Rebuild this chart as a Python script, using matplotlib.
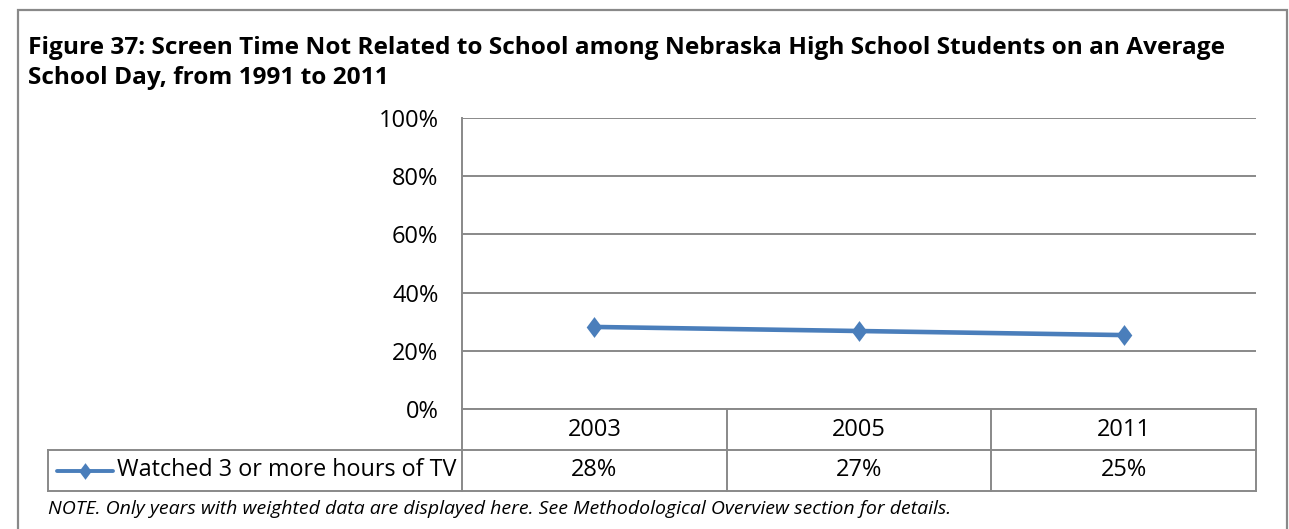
import numpy as np
import matplotlib.pyplot as plt
from matplotlib.patches import Rectangle

plt.rcParams['font.family'] = ['Open Sans', 'DejaVu Sans']

# survey years and share of students (percent)
years = ['2003', '2005', '2011']
tv_pct = [28.2, 26.8, 25.4]
series_name = 'Watched 3 or more hours of TV'
y_ticks = [0, 20, 40, 60, 80, 100]

title = ('Figure 37: Screen Time Not Related to School among Nebraska High School Students on an Average\n'
         'School Day, from 1991 to 2011')
note = 'NOTE. Only years with weighted data are displayed here. See Methodological Overview section for details.'

W, H = 1289, 529
fig = plt.figure(figsize=(W / 100, H / 100), dpi=100)

grid_c = '#898989'
line_c = '#4a7ebb'
diamond = [(0, 1), (0.75, 0), (0, -1), (-0.75, 0)]
fs = 17

# outer chart frame
fig.patches.append(Rectangle((18 / W, -0.05), (1287 - 18) / W, 1.05 - 10 / H,
                             transform=fig.transFigure, fill=False,
                             edgecolor=grid_c, lw=1.6))

fig.text(28 / W, 1 - 36 / H, title, fontsize=17.6, fontweight='bold',
         va='top', ha='left', linespacing=1.33)

left, right, top, bottom = 462, 1256, 118, 409
ax = fig.add_axes([left / W, 1 - bottom / H, (right - left) / W, (bottom - top) / H])

x = np.arange(len(years))
ax.plot(x, tv_pct, color=line_c, lw=3.3, marker=diamond, markersize=15,
        markeredgewidth=0, solid_capstyle='round', zorder=3)

ax.set_xlim(-0.5, len(years) - 0.5)
ax.set_ylim(0, 100)
ax.set_yticks(y_ticks)
ax.set_yticklabels([f'{t}%' for t in y_ticks], fontsize=fs)
ax.tick_params(axis='y', length=0, pad=17)
ax.set_xticks([])
ax.yaxis.grid(True, color=grid_c, lw=1.4)
ax.set_axisbelow(True)
for s in ['top', 'right', 'bottom']:
    ax.spines[s].set_visible(False)
ax.spines['left'].set_color(grid_c)
ax.spines['left'].set_linewidth(1.4)

# data table below the plot
row_h = 41 / (bottom - top)
tr = ax.get_xaxis_transform()
kw = dict(color=grid_c, lw=1.4, clip_on=False, transform=tr)
x0, x1 = -0.5, len(years) - 0.5
ax.plot([x0, x1], [0, 0], **kw)
ax.plot([x0, x1], [-row_h, -row_h], **kw)
ax.plot([x0, x1], [-2 * row_h, -2 * row_h], **kw)
for b in np.arange(len(years) + 1) - 0.5:
    ax.plot([b, b], [0, -2 * row_h], **kw)

# legend cell on the left of the value row
leg_l = 48 / W
ax_l = left / W
fy_top = 1 - 450 / H
fy_bot = 1 - 491 / H
fig.add_artist(plt.Line2D([leg_l, ax_l], [fy_top, fy_top], color=grid_c, lw=1.4))
fig.add_artist(plt.Line2D([leg_l, ax_l], [fy_bot, fy_bot], color=grid_c, lw=1.4))
fig.add_artist(plt.Line2D([leg_l, leg_l], [fy_top, fy_bot], color=grid_c, lw=1.4))
fy_mid = (fy_top + fy_bot) / 2
fig.add_artist(plt.Line2D([57 / W, 113 / W], [fy_mid, fy_mid], color=line_c, lw=2.8,
                          solid_capstyle='round'))
fig.add_artist(plt.Line2D([85 / W], [fy_mid], color=line_c, marker=diamond,
                          markersize=12, markeredgewidth=0))
fig.text(117 / W, fy_mid, series_name, fontsize=16.8, va='center', ha='left')

for i, (yr, v) in enumerate(zip(years, tv_pct)):
    ax.text(i, -row_h / 2, yr, transform=tr, ha='center', va='center', fontsize=fs)
    ax.text(i, -1.5 * row_h, f'{v:.0f}%', transform=tr, ha='center', va='center', fontsize=fs)

fig.text(48 / W, 1 - 509 / H, note, fontsize=14, style='italic', va='center', ha='left')

fig.savefig('out.png', dpi=100)
